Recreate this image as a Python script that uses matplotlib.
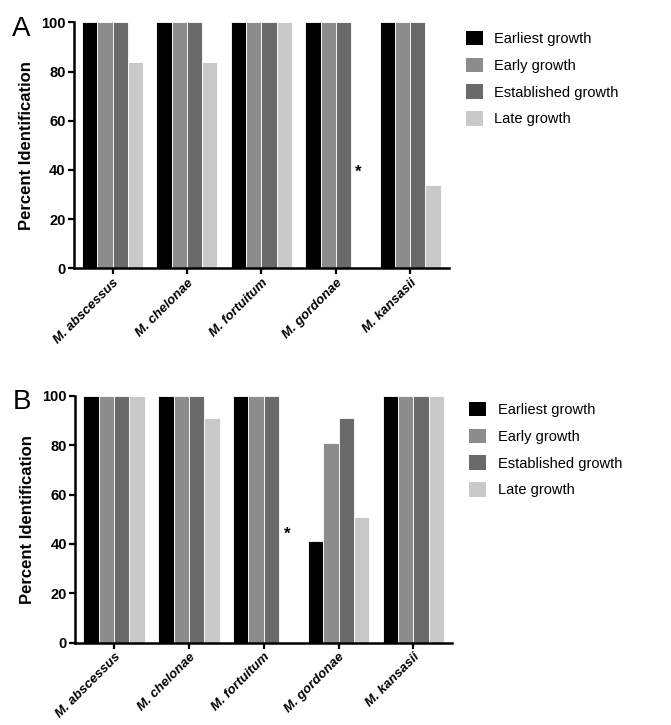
import matplotlib.pyplot as plt
import numpy as np
from matplotlib.patches import Patch

plt.rcParams['font.family'] = ['Liberation Sans', 'DejaVu Sans']

species = ['M. abscessus', 'M. chelonae', 'M. fortuitum', 'M. gordonae', 'M. kansasii']
stages = ['Earliest growth', 'Early growth', 'Established growth', 'Late growth']
colors = ['#000000', '#8c8c8c', '#6a6a6a', '#c9c9c9']

# percent identification per stage (rows) and species (columns)
panel_a = [
    [100, 100, 100, 100, 100],
    [100, 100, 100, 100, 100],
    [100, 100, 100, 100, 100],
    [84, 84, 100, 0, 34],
]
panel_b = [
    [100, 100, 100, 41, 100],
    [100, 100, 100, 81, 100],
    [100, 100, 100, 91, 100],
    [100, 91, 0, 51, 100],
]
# asterisk marks: (species index, stage index, height)
star_a = (3, 3, 39)
star_b = (2, 3, 44)

fig = plt.figure(figsize=(6.71, 7.25), dpi=100)
ax_a = fig.add_axes([0.110, 0.630, 0.559, 0.339])
ax_b = fig.add_axes([0.112, 0.1135, 0.562, 0.3405])

bar_w = 0.205
offsets = (np.arange(4) - 1.5) * bar_w
x = np.arange(len(species))


def draw_panel(ax, data, star, letter, leg_y):
    for i, vals in enumerate(data):
        ax.bar(x + offsets[i], vals, width=bar_w, color=colors[i],
               edgecolor='white', linewidth=0.6, zorder=2)
    si, st, sh = star
    ax.text(si + offsets[st], sh, '*', ha='center', va='center',
            fontsize=12, fontweight='bold')
    ax.set_xlim(-0.52, 4.52)
    ax.set_ylim(0, 100)
    ax.set_yticks([0, 20, 40, 60, 80, 100])
    ax.set_xticks(x)
    ax.set_xticklabels(species, rotation=45, ha='right', rotation_mode='anchor',
                       fontsize=9.5, fontweight='bold', style='italic')
    for lab in ax.get_yticklabels():
        lab.set_fontweight('bold')
        lab.set_fontsize(10.5)
    ax.set_ylabel('Percent Identification', fontsize=12, fontweight='bold', labelpad=5)
    for pos in ['top', 'right']:
        ax.spines[pos].set_visible(False)
    for pos in ['left', 'bottom']:
        ax.spines[pos].set_linewidth(1.8)
    ax.tick_params(axis='both', width=1.6, length=4, pad=2)
    ax.text(-0.165, 0.975, letter, transform=ax.transAxes, fontsize=20,
            va='center', ha='left')
    handles = [Patch(facecolor=c, edgecolor='none') for c in colors]
    ax.legend(handles, stages, loc='upper left', bbox_to_anchor=(1.03, leg_y),
              frameon=False, fontsize=10.5, handlelength=1.15, handleheight=1.15,
              labelspacing=0.8, handletextpad=0.8, borderaxespad=0)


draw_panel(ax_a, panel_a, star_a, 'A', 0.99)
draw_panel(ax_b, panel_b, star_b, 'B', 1.0)

plt.savefig('out.png', dpi=100)
